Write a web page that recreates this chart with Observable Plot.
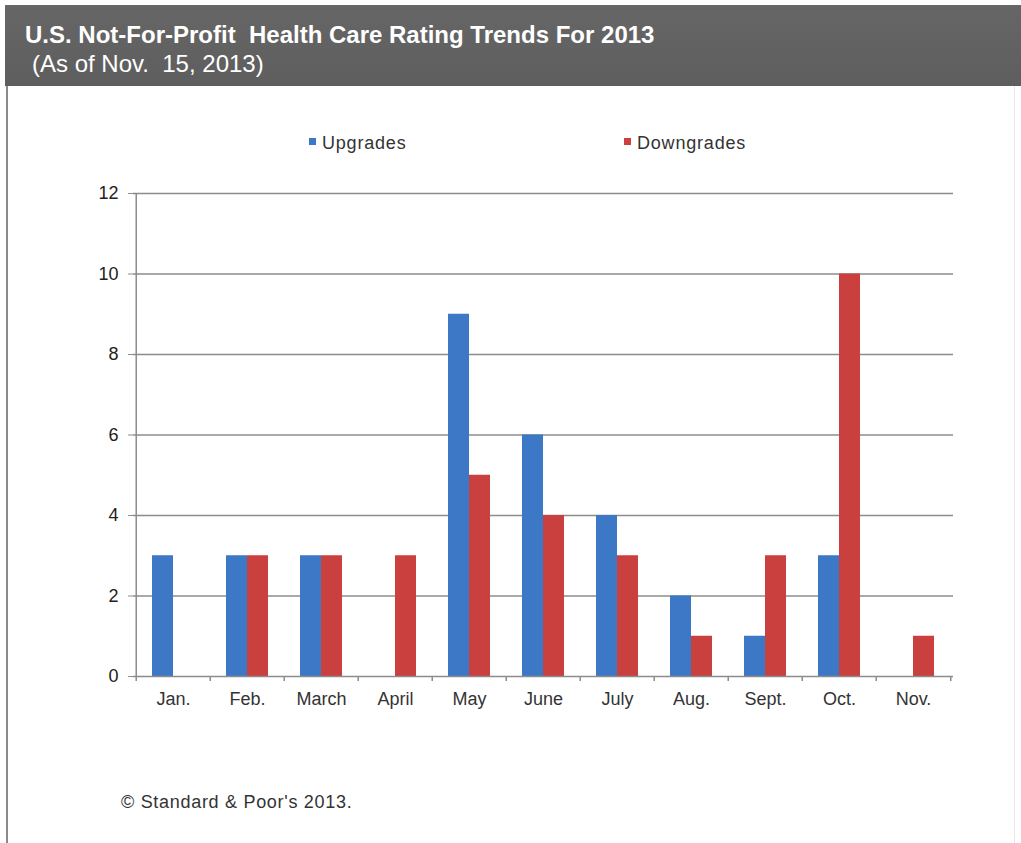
<!DOCTYPE html>
<html>
<head>
<meta charset="utf-8">
<script src="https://cdn.jsdelivr.net/npm/d3@7"></script>
<script src="https://cdn.jsdelivr.net/npm/@observablehq/plot@0.6"></script>
<style>
  html, body { margin: 0; padding: 0; background: #fff; }
  #page { position: relative; width: 1021px; height: 843px; overflow: hidden; font-family: "Liberation Sans", Arial, sans-serif; }
  #header { position: absolute; left: 5px; top: 5px; width: 1016px; height: 81px; background: linear-gradient(#666, #5e5e5e); color: #fff; }
  #title { position: absolute; left: 20px; top: 18px; line-height: 24px; font-weight: bold; font-size: 24px; white-space: nowrap; }
  #subtitle { position: absolute; left: 27px; top: 47px; line-height: 24px; font-size: 24px; white-space: nowrap; }
  #frameL { position: absolute; left: 6px; top: 86px; width: 2px; height: 757px; background: #8a8a8a; z-index: 3; }
  #frameR { position: absolute; left: 1014px; top: 86px; width: 1px; height: 757px; background: #e6e6e6; z-index: 3; }
  .leg { position: absolute; top: 133px; font-size: 18px; color: #333; letter-spacing: 0.8px; white-space: nowrap; }
  .sw { display: inline-block; width: 7px; height: 7px; margin-right: 6px; vertical-align: 4px; }
  #chart { position: absolute; left: 0; top: 170px; z-index: 1; }
  #caption { position: absolute; left: 121px; top: 792px; font-size: 18px; letter-spacing: 0.7px; color: #333; white-space: nowrap; }
</style>
</head>
<body>
<div id="page">
  <div id="header">
    <div id="title">U.S. Not-For-Profit&nbsp; Health Care Rating Trends For 2013</div>
    <div id="subtitle">(As of Nov.&nbsp; 15, 2013)</div>
  </div>
  <div id="frameL"></div>
  <div id="frameR"></div>
  <div class="leg" style="left:309px"><span class="sw" style="background:#3d78c6"></span>Upgrades</div>
  <div class="leg" style="left:624px"><span class="sw" style="background:#c9403f"></span>Downgrades</div>
  <div id="chart"></div>
  <div id="caption">© Standard &amp; Poor's 2013.</div>
</div>
<script>
const months = ["Jan.", "Feb.", "March", "April", "May", "June", "July", "Aug.", "Sept.", "Oct.", "Nov."];
const upgrades = [3, 3, 3, 0, 9, 6, 4, 2, 1, 3, 0];
const downgrades = [0, 3, 3, 3, 5, 4, 3, 1, 3, 10, 1];
const yTicks = [0, 2, 4, 6, 8, 10, 12];

const blue = "#3d78c6";
const red = "#c9403f";

const up = months.map((m, i) => ({month: m, value: upgrades[i]}));
const down = months.map((m, i) => ({month: m, value: downgrades[i]}));

const width = 1021, height = 560;
const marginLeft = 133, marginRight = 68, marginTop = 23, marginBottom = 54;
const step = (width - marginLeft - marginRight) / months.length;
const pad = 1 - 42 / step;
const half = 21;

const chart = Plot.plot({
  width, height, marginLeft, marginRight, marginTop, marginBottom,
  style: {fontFamily: "'Liberation Sans', Arial, sans-serif", background: "transparent"},
  x: {domain: months, paddingInner: pad, paddingOuter: pad / 2, label: null},
  y: {domain: [0, 12], label: null},
  marks: [
    Plot.ruleY(yTicks.filter(d => d > 0), {stroke: "#8c8c8c", strokeWidth: 1.5}),
    Plot.barY(up, {x: "month", y: "value", fill: blue, insetRight: half}),
    Plot.barY(down, {x: "month", y: "value", fill: red, insetLeft: half}),
    Plot.ruleY([0], {stroke: "#8c8c8c", strokeWidth: 1.5}),
    Plot.ruleX(months, {x: d => d, y1: 0, y2: 0, dx: -step / 2, insetBottom: -5, stroke: "#8c8c8c", strokeWidth: 1.5}),
    Plot.ruleX(months.slice(-1), {x: d => d, y1: 0, y2: 0, dx: step / 2, insetBottom: -5, stroke: "#8c8c8c", strokeWidth: 1.5}),
    Plot.ruleX(months.slice(0, 1), {x: d => d, y1: 0, y2: 12, dx: -step / 2, stroke: "#8c8c8c", strokeWidth: 1.5}),
    Plot.axisY({ticks: yTicks, tickSize: 5, tickPadding: 10, fontSize: 18, color: "#222", stroke: "#8c8c8c", tickFormat: d => d}),
    Plot.axisX({tickSize: 0, tickPadding: 16, fontSize: 18, color: "#333", letterSpacing: "1px"})
  ]
});
document.getElementById("chart").appendChild(chart);
</script>
</body>
</html>
